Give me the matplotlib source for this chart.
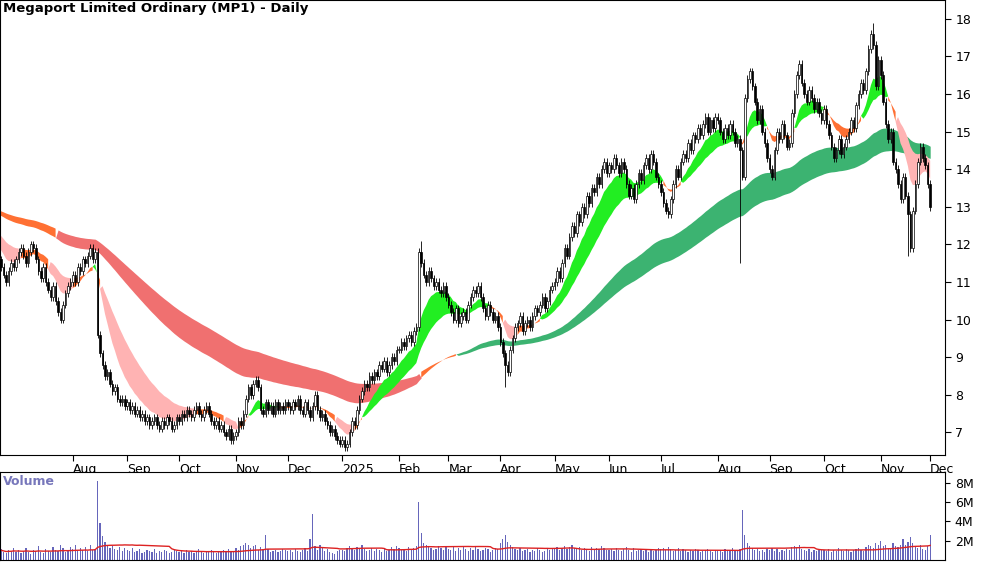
import numpy as np
import pandas as pd
import matplotlib
matplotlib.use("Agg")
import matplotlib.pyplot as plt

title = "Megaport Limited Ordinary (MP1) - Daily"
start_date = "2024-06-20"

# pre-chart history (used only to seed the moving averages)
history = [13.2, 13.4, 13.1, 13.3, 13.0, 13.2, 12.9, 13.1, 12.8, 12.9, 12.7, 12.8, 12.6, 12.7, 12.5, 12.6,
           12.4, 12.5, 12.3, 12.4, 12.2, 12.3, 12.1, 12.2, 12.0, 12.1, 11.9, 11.8, 11.7, 11.6]

closes = [
    # Jun 2024
    11.6, 11.4, 11.2, 11.0, 11.3, 11.5, 11.4,
    # Jul
    11.6, 11.8, 11.9, 11.7, 11.5, 11.8, 12.0, 11.9, 11.6, 11.3, 11.1, 11.4, 11.0, 10.8, 10.6, 10.9, 10.5, 10.2, 10.0, 10.4, 10.7, 10.9, 11.0,
    # Aug
    11.2, 11.0, 11.4, 11.3, 11.6, 11.5, 11.7, 11.9, 11.6, 11.8, 9.6, 9.1, 8.8, 8.5, 8.6, 8.3, 8.1, 8.2, 7.9, 7.8, 7.9, 7.7,
    # Sep
    7.8, 7.6, 7.7, 7.5, 7.6, 7.4, 7.5, 7.3, 7.4, 7.2, 7.3, 7.4, 7.2, 7.1, 7.3, 7.2, 7.4, 7.3, 7.1, 7.2, 7.4,
    # Oct
    7.3, 7.5, 7.4, 7.6, 7.5, 7.4, 7.6, 7.7, 7.5, 7.4, 7.6, 7.7, 7.5, 7.3, 7.2, 7.3, 7.1, 7.2, 7.0, 6.9, 7.1, 6.8, 6.9,
    # Nov
    7.0, 7.3, 7.2, 7.5, 7.9, 8.2, 8.0, 8.3, 8.4, 8.2, 7.6, 7.5, 7.8, 7.6, 7.7, 7.5, 7.8, 7.6, 7.7, 7.6, 7.8,
    # Dec
    7.7, 7.6, 7.8, 7.7, 7.9, 7.6, 7.5, 7.8, 7.6, 7.4, 7.7, 8.0, 7.6, 7.4, 7.5, 7.3, 7.2, 7.0, 7.1, 6.9, 6.8, 6.7,
    # Jan 2025
    6.8, 6.6, 6.7, 7.0, 7.3, 7.2, 7.6, 7.9, 8.1, 8.3, 8.2, 8.5, 8.4, 8.6, 8.5, 8.8, 8.7, 8.9, 8.6, 8.8, 9.0, 8.9, 9.2,
    # Feb
    9.2, 9.4, 9.3, 9.5, 9.6, 9.4, 9.7, 9.8, 11.8, 11.5, 11.2, 11.0, 11.3, 11.1, 10.9, 11.0, 10.8, 10.7, 10.9, 10.6,
    # Mar
    10.4, 10.2, 10.0, 10.3, 9.9, 10.1, 10.2, 10.0, 10.4, 10.6, 10.8, 10.7, 10.9, 10.6, 10.3, 10.1, 10.4, 10.2, 10.0, 10.1, 9.8,
    # Apr
    9.4, 9.1, 8.8, 8.6, 9.2, 9.5, 9.8, 9.9, 10.1, 9.7, 9.9, 10.0, 9.8, 10.1, 10.3, 10.2, 10.4, 10.6, 10.3, 10.5, 10.8, 10.9,
    # May
    11.0, 11.3, 11.1, 11.5, 11.9, 11.7, 12.2, 12.5, 12.3, 12.8, 12.6, 13.0, 12.8, 13.3, 13.1, 13.5, 13.4, 13.8, 13.6, 14.0, 14.2, 13.9,
    # Jun
    14.1, 14.0, 14.3, 14.1, 13.9, 14.2, 14.0, 13.6, 13.3, 13.5, 13.2, 13.6, 13.9, 13.7, 14.1, 14.3, 14.0, 14.4, 14.2, 13.8, 13.6,
    # Jul
    13.4, 13.1, 12.9, 12.8, 13.2, 13.6, 14.0, 13.8, 14.2, 14.4, 14.3, 14.7, 14.5, 14.9, 14.8, 15.1, 14.9, 15.2, 15.4, 15.0, 15.3, 15.1, 15.4,
    # Aug
    15.3, 15.0, 14.8, 15.1, 14.9, 15.2, 15.0, 14.7, 14.8, 14.5, 13.8, 15.9, 16.4, 16.6, 16.2, 15.8, 15.3, 15.6, 15.0, 14.7, 14.3,
    # Sep
    14.0, 13.8, 14.5, 15.0, 14.8, 15.2, 14.9, 14.6, 14.7, 15.5, 16.0, 16.5, 16.8, 16.3, 16.0, 15.8, 16.1, 15.9, 15.6, 15.8, 15.5, 15.3,
    # Oct
    15.6, 15.2, 14.9, 14.6, 14.3, 14.5, 14.8, 14.4, 14.6, 14.8, 15.0, 15.3, 15.1, 15.7, 16.0, 16.3, 16.1, 16.6, 17.2, 17.6, 17.3, 16.2, 16.9,
    # Nov
    16.5, 15.8, 15.2, 14.8, 15.0, 14.2, 14.0, 13.6, 13.2, 13.8, 13.3, 12.8, 11.9, 12.9, 13.6, 14.2, 14.6, 14.3, 14.1, 13.6,
    # Dec
    13.0,
]

volumes_m = [
    0.9, 1.1, 0.8, 0.7, 1.0, 0.9, 1.2,
    0.8, 1.0, 0.7, 0.9, 1.2, 0.8, 0.6, 1.0, 0.9, 1.4, 0.8, 0.7, 1.1, 0.9, 0.8, 1.3, 1.0, 0.9, 1.6, 1.2, 0.8, 1.0, 1.3,
    1.1, 1.5, 0.9, 1.2, 1.0, 1.3, 0.9, 1.6, 1.0, 1.1, 8.2, 3.8, 2.5, 1.9, 1.6, 1.2, 1.4, 1.1, 1.0, 1.3, 0.9, 1.2,
    1.0, 0.9, 1.2, 0.8, 0.9, 1.1, 0.7, 0.8, 1.0, 0.9, 0.8, 1.1, 0.7, 0.9, 0.8, 1.0, 0.9, 0.7, 0.8, 1.0, 0.9,
    0.8, 0.9, 0.7, 1.0, 0.8, 0.9, 0.7, 0.8, 1.1, 0.9, 0.7, 0.8, 0.9, 1.0, 0.8, 0.7, 0.9, 0.8, 1.0, 0.9, 1.1, 0.8, 0.9,
    1.2, 1.0, 1.4, 1.5, 1.8, 1.6, 1.2, 1.4, 1.5, 1.0, 1.3, 1.1, 2.6, 1.1, 0.8, 0.9, 1.0, 0.8, 0.9, 1.1, 1.0,
    0.9, 1.0, 0.8, 1.1, 0.9, 0.8, 1.0, 1.2, 0.9, 2.2, 4.8, 1.4, 1.0, 1.6, 1.2, 0.9, 1.1, 0.8, 0.7, 0.6, 0.9, 1.0,
    1.0, 0.9, 1.2, 1.4, 1.1, 1.0, 1.3, 1.2, 1.5, 1.1, 0.9, 1.0, 1.2, 0.9, 1.1, 1.0, 0.8, 1.2, 0.9, 1.0, 1.3, 1.1, 1.4,
    1.2, 1.0, 1.1, 0.9, 1.3, 1.0, 1.2, 1.4, 6.0, 2.8, 1.8, 1.5, 1.3, 1.2, 1.0, 1.1, 1.4, 1.2, 1.0, 1.3,
    1.1, 1.0, 1.3, 0.9, 1.2, 1.0, 1.4, 1.1, 0.9, 1.2, 1.0, 1.3, 1.1, 0.9, 1.0, 1.2, 1.1, 0.8, 1.0, 1.2, 1.1,
    1.8, 2.2, 2.6, 1.9, 1.6, 1.3, 1.1, 1.0, 1.2, 0.9, 1.0, 1.1, 0.8, 1.0, 0.9, 1.2, 1.0, 0.8, 0.9, 1.1, 1.0, 1.2,
    1.1, 1.3, 1.0, 1.2, 1.4, 1.1, 1.3, 1.5, 1.2, 1.1, 1.3, 1.0, 1.2, 1.1, 0.9, 1.3, 1.0, 1.2, 1.1, 1.4, 1.2, 1.0,
    1.0, 1.1, 0.9, 1.2, 1.0, 0.9, 1.1, 1.3, 1.0, 0.8, 1.2, 0.9, 1.0, 1.1, 0.9, 1.0, 0.8, 1.1, 0.9, 1.0, 1.2,
    1.1, 1.2, 1.0, 1.3, 1.1, 0.9, 1.0, 1.2, 0.9, 1.1, 1.0, 0.8, 1.0, 0.9, 1.1, 1.0, 0.8, 0.9, 1.0, 1.1, 0.9, 0.8, 1.0,
    0.9, 1.0, 0.8, 1.1, 0.9, 1.0, 1.2, 1.0, 0.9, 1.1, 5.2, 2.6, 1.8, 1.4, 1.2, 1.0, 1.1, 0.9, 1.0, 0.8, 1.1,
    1.0, 1.2, 0.9, 1.1, 0.8, 1.0, 0.9, 1.1, 1.0, 1.3, 1.4, 1.2, 1.5, 1.1, 1.0, 0.9, 1.1, 0.8, 1.0, 0.9, 1.1, 1.0,
    1.0, 0.9, 1.1, 0.8, 1.0, 0.9, 1.2, 1.0, 0.9, 1.1, 1.0, 0.8, 1.0, 1.1, 1.2, 1.0, 0.9, 1.3, 1.6, 1.4, 1.2, 1.8, 1.5,
    2.0, 1.4, 1.6, 1.2, 1.1, 1.8, 1.4, 1.3, 1.6, 2.2, 1.5, 1.9, 2.4, 1.8, 1.3, 1.2, 1.5, 1.1, 1.0, 1.4,
    2.6,
]

# long wicks (date -> low / high)
wick_lows = {"2025-04-03": 8.2, "2025-08-14": 11.5, "2025-11-18": 11.7}
wick_highs = {"2025-02-14": 12.1, "2025-10-29": 17.9}

price_ticks = [7, 8, 9, 10, 11, 12, 13, 14, 15, 16, 17, 18]
vol_ticks = [2, 4, 6, 8]

# ---------------------------------------------------------------
n = len(closes)
dates = pd.bdate_range(start_date, periods=n)
c = np.array(closes)
o = np.concatenate([[c[0]], c[:-1]])
hi = np.maximum(o, c) + 0.1
lo = np.minimum(o, c) - 0.1
for d, v in wick_lows.items():
    i = dates.searchsorted(pd.Timestamp(d)); lo[i] = v
for d, v in wick_highs.items():
    i = dates.searchsorted(pd.Timestamp(d)); hi[i] = v
x = np.arange(n)

full = pd.Series(history + closes)
def ema(span):
    return full.ewm(span=span, adjust=False).mean().values[len(history):]
s_fast, s_slow = ema(11), ema(26)
l_fast, l_slow = ema(85), ema(125)

fig = plt.figure(figsize=(10, 5.62), dpi=100)
ax = fig.add_axes([0.0, 1 - 455 / 562, 0.945, 455 / 562])
axv = fig.add_axes([0.0, 2 / 562, 0.945, 88 / 562])

# long ribbon
ld = (l_fast - l_slow) / l_slow
g = ld > 0.006
r = ld < -0.02
oo = ~(g | r)
for mask, col in [(g, "#3cb371"), (r, "#f07070"), (oo, "#ff7033")]:
    ax.fill_between(x, l_fast, l_slow, where=mask, color=col, lw=0, interpolate=True)
# short ribbon
sd = (s_fast - s_slow) / s_slow
g2 = sd > 0.01
p2 = sd < -0.025
o2 = ~(g2 | p2)
for mask, col in [(g2, "#22ee22"), (p2, "#ffb3b3"), (o2, "#ff7033")]:
    ax.fill_between(x, s_fast, s_slow, where=mask, color=col, lw=0, interpolate=True)

# candles
ax.vlines(x, lo, hi, color="black", lw=0.6, zorder=3)
up = c >= o
bottom = np.minimum(o, c)
height = np.maximum(np.abs(c - o), 0.03)
ax.bar(x[up], height[up], bottom=bottom[up], width=0.6, color="white", edgecolor="black", lw=0.5, zorder=4)
ax.bar(x[~up], height[~up], bottom=bottom[~up], width=0.6, color="black", edgecolor="black", lw=0.5, zorder=4)

XL = (0.5, 383)
ax.set_xlim(*XL)
ax.set_ylim(6.4, 18.5)
ax.yaxis.tick_right()
ax.set_yticks(price_ticks)
ax.tick_params(axis="y", labelsize=9, length=4)

# month ticks
per = dates.to_period("M")
first = [i for i in range(n) if i > 0 and per[i] != per[i - 1]][1:]
labels = [("2025" if dates[i].month == 1 else dates[i].strftime("%b")) for i in first]
ax.set_xticks(first)
ax.set_xticklabels(labels, fontsize=9)
ax.tick_params(axis="x", length=4, pad=2)
for lab in ax.get_xticklabels():
    lab.set_horizontalalignment("left")
ax.text(0.003, 0.995, title, transform=ax.transAxes, fontsize=9.5, fontweight="bold", va="top", ha="left")

# volume
vol = np.array(volumes_m)
axv.bar(x, vol, width=0.5, color="#6666bb")
axv.plot(x, pd.Series(vol).rolling(30, min_periods=1).mean(), color="#dd2222", lw=1)
axv.set_xlim(*XL)
axv.set_ylim(0, 9.1)
axv.yaxis.tick_right()
axv.set_yticks(vol_ticks)
axv.set_yticklabels([f"{v}M" for v in vol_ticks], fontsize=9)
axv.set_xticks([])
axv.text(0.003, 0.97, "Volume", transform=axv.transAxes, fontsize=9, color="#7777bb", va="top", fontweight="bold")

fig.savefig("out.png", dpi=100)
